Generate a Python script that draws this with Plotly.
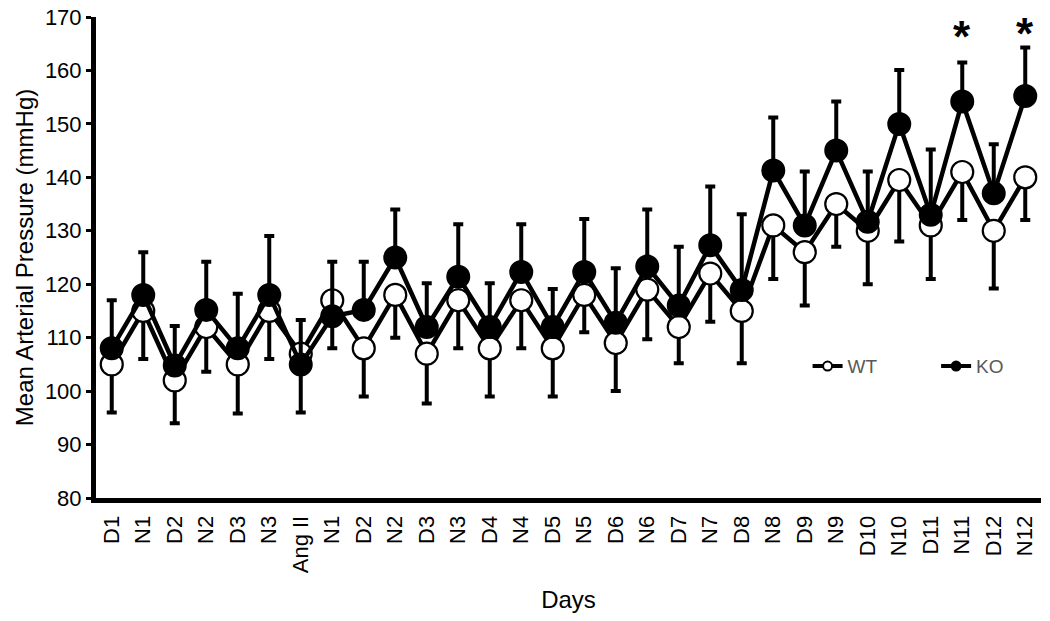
import plotly.graph_objects as go

days = ["D1", "N1", "D2", "N2", "D3", "N3", "Ang II", "N1", "D2", "N2", "D3", "N3",
        "D4", "N4", "D5", "N5", "D6", "N6", "D7", "N7", "D8", "N8", "D9", "N9",
        "D10", "N10", "D11", "N11", "D12", "N12"]
wt_mean = [105, 115, 102, 112, 105, 115, 107, 117, 108, 118, 107, 117,
           108, 117, 108, 118, 109, 119, 112, 122, 115, 131, 126, 135,
           130, 139.5, 131, 141, 130, 140]
wt_lower = [96, 106, 94, 103.6, 95.8, 106, 96, 108, 99, 110, 97.7, 108,
            99, 108, 99, 111, 100, 109.7, 105.2, 113, 105.2, 121, 116, 127,
            120, 128, 121, 132, 119.2, 132]
ko_mean = [108, 118, 104.8, 115.2, 108, 118, 105, 114, 115.2, 125, 112, 121.4,
           112, 122.3, 112, 122.3, 112.8, 123.3, 116, 127.3, 118.9, 141.3, 131, 145,
           131.7, 150, 133, 154.2, 137, 155.2]
ko_upper = [117, 126, 112.2, 124.2, 118.2, 129, 113.3, 124.2, 124.2, 134, 120.2, 131.2,
            120.2, 131.2, 119.1, 132.2, 123, 134, 127, 138.3, 133.1, 151.2, 141.1, 154.2,
            141.1, 160.1, 145.2, 161.5, 146.2, 164.3]
sig_idx = [27, 29]
sig_y = [166.3, 167.0]

x = list(range(len(days)))
wt_err = [m - lo for m, lo in zip(wt_mean, wt_lower)]
ko_err = [hi - m for m, hi in zip(ko_mean, ko_upper)]

fig = go.Figure()
fig.add_trace(go.Scatter(
    x=x, y=wt_mean, mode="lines+markers", name="WT", showlegend=False,
    line=dict(color="black", width=4.5),
    marker=dict(symbol="circle", size=22, color="white", line=dict(color="black", width=2.2)),
    error_y=dict(type="data", symmetric=False, array=[0] * len(x), arrayminus=wt_err,
                 color="black", thickness=4, width=5),
))
fig.add_trace(go.Scatter(
    x=x, y=ko_mean, mode="lines+markers", name="KO", showlegend=False,
    line=dict(color="black", width=4.5),
    marker=dict(symbol="circle", size=22, color="black", line=dict(color="black", width=2)),
    error_y=dict(type="data", symmetric=False, array=ko_err, arrayminus=[0] * len(x),
                 color="black", thickness=4, width=5),
))
# legend entries with small symbols
fig.add_trace(go.Scatter(
    x=[None], y=[None], mode="lines+markers", name="WT", legend="legend",
    line=dict(color="black", width=4),
    marker=dict(symbol="circle", size=9, color="white", line=dict(color="black", width=2)),
))
fig.add_trace(go.Scatter(
    x=[None], y=[None], mode="lines+markers", name="KO", legend="legend2",
    line=dict(color="black", width=4),
    marker=dict(symbol="circle", size=9, color="black", line=dict(color="black", width=2)),
))

for i, yv in zip(sig_idx, sig_y):
    fig.add_annotation(x=i, y=yv, text="<b>*</b>", showarrow=False,
                       font=dict(size=44, color="black", family="Liberation Sans, Arial"),
                       xanchor="center", yanchor="middle")

legend_style = dict(orientation="h", y=0.274, xanchor="left", yanchor="middle",
                    font=dict(size=19, color="#595959"), bgcolor="rgba(0,0,0,0)",
                    itemwidth=30)

fig.update_layout(
    width=1034, height=605,
    margin=dict(l=88, r=1, t=9, b=115),
    paper_bgcolor="white", plot_bgcolor="white",
    font=dict(family="Liberation Sans, Arial", size=22, color="black"),
    showlegend=True,
    legend=dict(x=0.753, **legend_style),
    legend2=dict(x=0.889, **legend_style),
    xaxis=dict(
        range=[-0.5, 29.5], tickmode="array", tickvals=x, ticktext=days,
        tickangle=-90, showgrid=False, zeroline=False, showline=True, automargin=False,
        linecolor="black", linewidth=5, ticks="", tickfont=dict(size=22),
        ticklabelstandoff=4,
        title=dict(text="Days", font=dict(size=24), standoff=26),
    ),
    yaxis=dict(
        range=[80, 170], dtick=10, showgrid=False, zeroline=False, showline=True, automargin=False,
        linecolor="black", linewidth=5, ticks="outside", ticklen=5, tickwidth=3,
        tickcolor="black", tickfont=dict(size=22), ticklabeloverflow="allow",
        title=dict(text="Mean Arterial Pressure (mmHg)", font=dict(size=24), standoff=6),
    ),
)

fig.write_html("out.html")
